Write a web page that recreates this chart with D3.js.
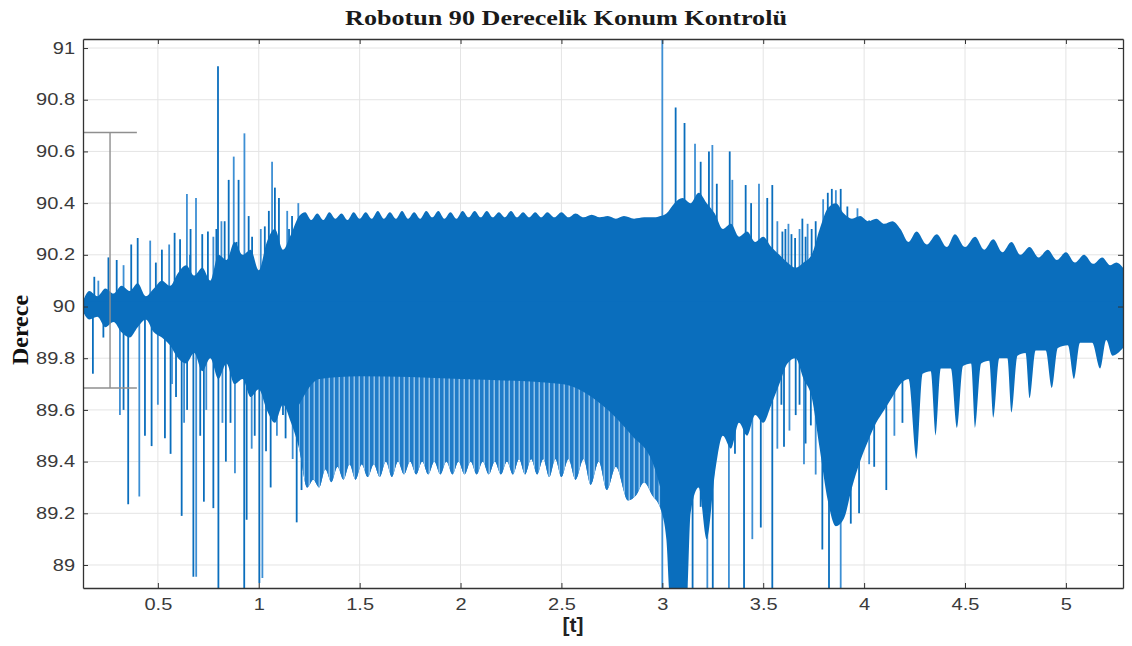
<!DOCTYPE html>
<html>
<head>
<meta charset="utf-8">
<script src="https://cdn.jsdelivr.net/npm/d3@7"></script>
<style>
  body { margin: 0; background: #fff; }
</style>
</head>
<body>
<div id="holder"></div>
<script>
const w = 1132;
const h = 646;

// AXES DATA
const xTicks = [0.5, 1, 1.5, 2, 2.5, 3, 3.5, 4, 4.5, 5];
const yTicks = [89, 89.2, 89.4, 89.6, 89.8, 90, 90.2, 90.4, 90.6, 90.8, 91];
const xDomain = [0.129, 5.283];
const yDomain = [88.911, 91.035];

// UPPER EDGE OF THE DENSE OSCILLATION
const hiT = [0.129, 0.16, 0.2, 0.24, 0.28, 0.32, 0.36, 0.40, 0.44, 0.48, 0.52, 0.56, 0.60, 0.64, 0.68, 0.72, 0.76, 0.80, 0.84, 0.88, 0.92, 0.96, 1.00, 1.04, 1.08, 1.12, 1.16, 1.20,
  1.23, 1.26, 1.29, 1.32, 1.35, 1.38, 1.41, 1.44, 1.47, 1.50, 1.53, 1.56, 1.59, 1.62, 1.65, 1.68, 1.71, 1.74, 1.77, 1.80, 1.83, 1.86, 1.89, 1.92, 1.95, 1.98,
  2.01, 2.04, 2.07, 2.10, 2.13, 2.16, 2.19, 2.22, 2.25, 2.28, 2.31, 2.34, 2.37, 2.40, 2.43, 2.465, 2.50, 2.535, 2.57, 2.61, 2.65, 2.69, 2.73, 2.77, 2.81, 2.86, 2.91, 2.96, 2.99,
  3.02, 3.06, 3.10, 3.14, 3.18, 3.22, 3.26, 3.30, 3.34, 3.38, 3.42, 3.46, 3.50, 3.54, 3.58, 3.62, 3.66, 3.70, 3.74, 3.78, 3.82, 3.86, 3.90, 3.94, 3.98, 4.02, 4.06, 4.10, 4.14,
  4.18, 4.22, 4.26, 4.31, 4.36, 4.41, 4.45, 4.50, 4.55, 4.595, 4.64, 4.685, 4.73, 4.775, 4.82, 4.865, 4.91, 4.955, 5.00, 5.045, 5.09, 5.135, 5.18, 5.22, 5.25, 5.283];
const hiV = [90.02, 90.06, 90.04, 90.07, 90.05, 90.08, 90.06, 90.09, 90.04, 90.07, 90.10, 90.08, 90.13, 90.16, 90.12, 90.15, 90.10, 90.20, 90.18, 90.25, 90.20, 90.22, 90.14, 90.25, 90.30, 90.22, 90.28, 90.35,
  90.365, 90.335, 90.36, 90.335, 90.365, 90.34, 90.36, 90.335, 90.365, 90.34, 90.365, 90.34, 90.37, 90.34, 90.365, 90.34, 90.37, 90.34, 90.365, 90.34, 90.37, 90.345, 90.37, 90.34, 90.365, 90.34,
  90.37, 90.345, 90.37, 90.345, 90.37, 90.345, 90.365, 90.345, 90.37, 90.345, 90.365, 90.345, 90.365, 90.345, 90.365, 90.345, 90.365, 90.345, 90.36, 90.345, 90.355, 90.345, 90.35, 90.34, 90.35, 90.34, 90.345, 90.345, 90.35,
  90.36, 90.40, 90.42, 90.40, 90.44, 90.40, 90.36, 90.30, 90.32, 90.27, 90.29, 90.25, 90.27, 90.23, 90.20, 90.17, 90.15, 90.17, 90.20, 90.30, 90.38, 90.40, 90.36, 90.34, 90.35, 90.33, 90.34, 90.32, 90.33,
  90.30, 90.25, 90.29, 90.24, 90.28, 90.23, 90.28, 90.23, 90.27, 90.22, 90.26, 90.21, 90.25, 90.20, 90.23, 90.19, 90.22, 90.18, 90.21, 90.17, 90.20, 90.165, 90.19, 90.16, 90.17, 90.15];

// LOWER EDGE OF THE DENSE OSCILLATION
const loT = [0.129, 0.16, 0.2, 0.24, 0.28, 0.32, 0.36, 0.40, 0.44, 0.48, 0.52, 0.56, 0.60, 0.64, 0.68, 0.72, 0.76, 0.80, 0.84, 0.88, 0.92, 0.96, 1.00, 1.04, 1.08, 1.12, 1.16, 1.20,
  1.24, 1.27, 1.30, 1.33, 1.36, 1.39, 1.42, 1.45, 1.48, 1.51, 1.54, 1.57, 1.60, 1.63, 1.66, 1.69, 1.72, 1.75, 1.78, 1.81, 1.84, 1.87, 1.90, 1.93, 1.96, 1.99,
  2.02, 2.05, 2.08, 2.11, 2.14, 2.17, 2.20, 2.23, 2.26, 2.29, 2.32, 2.35, 2.38, 2.41, 2.44, 2.47, 2.50, 2.535, 2.57, 2.61, 2.645, 2.685, 2.725, 2.77, 2.83, 2.87, 2.91, 2.95, 2.99,
  3.02, 3.04, 3.12, 3.14, 3.18, 3.22, 3.26, 3.30, 3.34, 3.38, 3.42, 3.46, 3.50, 3.54, 3.58, 3.62, 3.66, 3.70, 3.74, 3.78, 3.82, 3.86, 3.90, 3.94, 3.98, 4.02, 4.06, 4.10, 4.14, 4.18,
  4.22, 4.26, 4.29, 4.33, 4.355, 4.38, 4.43, 4.46, 4.49, 4.53, 4.55, 4.58, 4.62, 4.64, 4.67, 4.71, 4.73, 4.76, 4.80, 4.82, 4.85, 4.90, 4.93, 4.96, 5.01, 5.04, 5.07, 5.13, 5.17, 5.20, 5.23, 5.283];
const loV = [89.98, 89.95, 89.96, 89.92, 89.94, 89.90, 89.88, 89.92, 89.95, 89.90, 89.88, 89.85, 89.80, 89.78, 89.82, 89.75, 89.80, 89.72, 89.78, 89.70, 89.72, 89.65, 89.68, 89.60, 89.55, 89.62, 89.55, 89.45,
  89.30, 89.33, 89.30, 89.37, 89.32, 89.38, 89.33, 89.39, 89.33, 89.39, 89.34, 89.39, 89.34, 89.40, 89.34, 89.40, 89.35, 89.40, 89.35, 89.40, 89.35, 89.40, 89.35, 89.40, 89.35, 89.40,
  89.35, 89.40, 89.35, 89.40, 89.35, 89.40, 89.35, 89.40, 89.35, 89.41, 89.35, 89.41, 89.35, 89.41, 89.34, 89.41, 89.34, 89.41, 89.33, 89.41, 89.31, 89.40, 89.29, 89.38, 89.25, 89.27, 89.32, 89.27, 89.22,
  89.10, 88.85, 88.85, 89.20, 89.30, 89.10, 89.35, 89.50, 89.45, 89.55, 89.50, 89.58, 89.55, 89.62, 89.70, 89.78, 89.80, 89.72, 89.65, 89.45, 89.25, 89.15, 89.18, 89.30, 89.40, 89.48, 89.55, 89.60, 89.65, 89.70,
  89.72, 89.41, 89.74, 89.75, 89.50, 89.76, 89.76, 89.53, 89.77, 89.78, 89.53, 89.78, 89.79, 89.57, 89.80, 89.80, 89.59, 89.81, 89.82, 89.645, 89.83, 89.83, 89.685, 89.84, 89.85, 89.72, 89.86, 89.86, 89.76, 89.87, 89.81, 89.84];

// LIGHTER (STRIPED) LOWER ZONE, TOP EDGE
const paleT = [1.20, 1.30, 1.50, 2.00, 2.50, 2.70, 2.85, 2.95, 2.99];
const paleV = [89.62, 89.72, 89.73, 89.72, 89.70, 89.62, 89.50, 89.40, 89.30];

// INDIVIDUAL SPIKES (peak values)
const spikeT = [0.185, 0.205, 0.255, 0.296, 0.33, 0.368, 0.40, 0.462, 0.49, 0.52, 0.556, 0.583, 0.61, 0.644, 0.662, 0.66, 0.689, 0.72, 0.748, 0.775, 0.79, 0.798, 0.815, 0.831, 0.851, 0.876, 0.89, 0.90, 0.929, 0.95, 0.967, 1.01, 1.03, 1.05, 1.066, 1.08, 1.10, 1.141, 1.15, 1.165, 1.196,
  0.178, 0.23, 0.312, 0.33, 0.353, 0.408, 0.436, 0.469, 0.50, 0.535, 0.563, 0.57, 0.59, 0.618, 0.63, 0.645, 0.676, 0.69, 0.71, 0.728, 0.74, 0.775, 0.80, 0.82, 0.837, 0.86, 0.882, 0.928, 0.94, 0.965, 0.98, 1.003, 1.018, 1.036, 1.059, 1.09, 1.12, 1.133, 1.168, 1.188, 1.212,
  3.0, 3.066, 3.11, 3.162, 3.19, 3.231, 3.248, 3.27, 3.334, 3.347, 3.413, 3.44, 3.479, 3.52, 3.545, 3.57, 3.595, 3.61, 3.625, 3.64, 3.658, 3.68, 3.694, 3.71, 3.72, 3.74, 3.76, 3.797, 3.82, 3.84, 3.86, 3.884, 3.917, 3.967, 4.025, 4.06,
  3.0, 3.15, 3.19, 3.223, 3.25, 3.3, 3.33, 3.36, 3.405, 3.446, 3.488, 3.545, 3.57, 3.59, 3.603, 3.63, 3.661, 3.68, 3.702, 3.71, 3.736, 3.76, 3.793, 3.826, 3.884, 3.934, 3.975, 4.025, 4.05, 4.11, 4.15, 4.19];
const spikeV = [90.115, 90.10, 90.19, 90.18, 90.16, 90.24, 90.265, 90.255, 90.17, 90.22, 90.24, 90.285, 90.26, 90.435, 90.30, 90.20, 90.42, 90.28, 90.29, 90.27, 90.30, 90.93, 90.33, 90.33, 90.49, 90.58, 90.25, 90.49, 90.67, 90.35, 90.27, 90.30, 90.31, 90.37, 90.56, 90.46, 90.42, 90.37, 90.30, 90.35, 90.40,
  89.74, 89.88, 89.58, 89.60, 89.235, 89.265, 89.50, 89.46, 89.62, 89.49, 89.43, 89.70, 89.65, 89.19, 89.55, 89.60, 88.955, 88.955, 89.50, 89.245, 89.60, 89.22, 88.80, 89.55, 89.40, 89.55, 89.355, 88.80, 89.175, 89.45, 89.50, 88.93, 88.95, 89.44, 89.30, 89.50, 89.58, 89.49, 89.41, 89.165, 89.29,
  91.2, 90.77, 90.71, 90.63, 90.56, 90.60, 90.625, 90.475, 90.60, 90.49, 90.47, 90.40, 90.475, 90.42, 90.47, 90.33, 90.29, 90.30, 90.32, 90.28, 90.265, 90.30, 90.34, 90.27, 90.32, 90.30, 90.33, 90.415, 90.44, 90.455, 90.45, 90.455, 90.387, 90.38, 90.333, 90.326,
  88.70, 88.70, 89.225, 88.70, 88.70, 89.54, 88.80, 89.43, 88.80, 89.10, 89.145, 88.80, 89.45, 89.62, 89.457, 89.52, 89.58, 89.62, 89.39, 89.47, 89.54, 89.35, 89.06, 88.80, 88.80, 89.16, 89.20, 89.39, 89.38, 89.29, 89.50, 89.55];

// GRAY BRACKET ANNOTATION
const bracketT = [0.129, 0.263, 0.396];
const bracketV = [90.673, 89.685];

const hiData = hiT.map((t, i) => ({ t: t, v: hiV[i] }));
const loData = loT.map((t, i) => ({ t: t, v: loV[i] }));
const paleData = paleT.map((t, i) => ({ t: t, v: paleV[i] }));
const spikes = spikeT.map((t, i) => ({ t: t, v: spikeV[i] }));

// CREATE SVG
const svg = d3.select("#holder")
    .append("svg")
    .attr("width", w)
    .attr("height", h)
    .style("font-family", "'Liberation Sans', Arial, sans-serif");

const xScale = d3.scaleLinear().domain(xDomain).range([83, 1123]);
const yScale = d3.scaleLinear().domain(yDomain).range([588, 39]);

const defs = svg.append("defs");
defs.append("clipPath").attr("id", "plotClip")
    .append("rect")
    .attr("x", 83).attr("y", 39).attr("width", 1040).attr("height", 549);

// stripes for the lighter lower zone
const pat = defs.append("pattern")
    .attr("id", "stripes")
    .attr("patternUnits", "userSpaceOnUse")
    .attr("width", 5).attr("height", 10);
pat.append("rect").attr("width", 5).attr("height", 10).attr("fill", "#1f7bc8");
pat.append("rect").attr("x", 3.5).attr("width", 1.5).attr("height", 10).attr("fill", "#8ec1ea");

// GRID
const grid = svg.append("g").attr("stroke", "#e4e4e4").attr("stroke-width", 1);
grid.selectAll(".gx").data(xTicks).enter().append("line")
    .attr("x1", d => xScale(d)).attr("x2", d => xScale(d))
    .attr("y1", 39).attr("y2", 588);
grid.selectAll(".gy").data(yTicks).enter().append("line")
    .attr("x1", 83).attr("x2", 1123)
    .attr("y1", d => yScale(d)).attr("y2", d => yScale(d));

// SIGNAL
const plot = svg.append("g").attr("clip-path", "url(#plotClip)");

// spikes go under the dense band so only their tips show
plot.selectAll(".spike")
    .data(spikes)
    .enter()
    .append("line")
    .attr("class", "spike")
    .attr("x1", d => xScale(d.t)).attr("x2", d => xScale(d.t))
    .attr("y1", yScale(90)).attr("y2", d => yScale(d.v))
    .attr("stroke", (d, i) => i % 3 === 1 ? "#3d8fd4" : "#0a6ebd")
    .attr("stroke-width", 1.8);

// the two halves overlap a little around 90 so no seam shows
const areaHi = d3.area()
    .x(d => xScale(d.t))
    .y0(yScale(89.98))
    .y1(d => yScale(d.v))
    .curve(d3.curveMonotoneX);
const areaLo = d3.area()
    .x(d => xScale(d.t))
    .y0(yScale(90.02))
    .y1(d => yScale(d.v))
    .curve(d3.curveMonotoneX);

defs.append("clipPath").attr("id", "loClip")
    .append("path").attr("d", areaLo(loData));

plot.append("path").attr("d", areaHi(hiData)).attr("fill", "#0a6ebd");
plot.append("path").attr("d", areaLo(loData)).attr("fill", "#0a6ebd");

const paleArea = d3.area()
    .x(d => xScale(d.t))
    .y0(yScale(88.9))
    .y1(d => yScale(d.v))
    .curve(d3.curveMonotoneX);
plot.append("g").attr("clip-path", "url(#loClip)")
    .append("path").attr("d", paleArea(paleData)).attr("fill", "url(#stripes)");

// BRACKET
const br = svg.append("g").attr("stroke", "#8f8f8f").attr("stroke-width", 1.4).attr("fill", "none");
br.append("line").attr("x1", xScale(bracketT[0])).attr("x2", xScale(bracketT[2]))
    .attr("y1", yScale(bracketV[0])).attr("y2", yScale(bracketV[0]));
br.append("line").attr("x1", xScale(bracketT[0])).attr("x2", xScale(bracketT[2]))
    .attr("y1", yScale(bracketV[1])).attr("y2", yScale(bracketV[1]));
br.append("line").attr("x1", xScale(bracketT[1])).attr("x2", xScale(bracketT[1]))
    .attr("y1", yScale(bracketV[0])).attr("y2", yScale(bracketV[1]));

// AXES
function widen(sel, k) {
    sel.each(function () {
        const l = this.getComputedTextLength();
        this.setAttribute("textLength", l * k);
        this.setAttribute("lengthAdjust", "spacingAndGlyphs");
    });
}

const xAxis = d3.axisBottom(xScale).tickValues(xTicks).tickFormat(d3.format("")).tickSizeInner(-5).tickSizeOuter(0).tickPadding(11);
const gx = svg.append("g").attr("transform", "translate(0,588)").call(xAxis);
const xAxisTop = d3.axisTop(xScale).tickValues(xTicks).tickFormat("").tickSizeInner(-5).tickSizeOuter(0);
const gxt = svg.append("g").attr("transform", "translate(0,39)").call(xAxisTop);

const yAxis = d3.axisLeft(yScale).tickValues(yTicks).tickFormat(d3.format("")).tickSizeInner(-5).tickSizeOuter(0).tickPadding(8);
const gy = svg.append("g").attr("transform", "translate(83,0)").call(yAxis);
const yAxisRight = d3.axisRight(yScale).tickValues(yTicks).tickFormat("").tickSizeInner(-5).tickSizeOuter(0);
const gyr = svg.append("g").attr("transform", "translate(1123,0)").call(yAxisRight);

[gx, gxt, gy, gyr].forEach(g => {
    g.select(".domain").attr("stroke", "#333").attr("stroke-width", 1.3);
    g.selectAll(".tick line").attr("stroke", "#333");
    g.selectAll("text").attr("fill", "#3a3a3a").style("font-size", "16px")
        .style("font-family", "'Liberation Sans', Arial, sans-serif");
});
widen(gx.selectAll("text"), 1.25);
widen(gy.selectAll("text"), 1.25);

// TITLE AND LABELS
svg.append("text")
    .attr("x", 566).attr("y", 25)
    .attr("text-anchor", "middle")
    .style("font-family", "'Liberation Serif', 'Times New Roman', serif")
    .style("font-weight", "bold")
    .style("font-size", "20px")
    .attr("fill", "#1a1a1a")
    .attr("textLength", 442)
    .attr("lengthAdjust", "spacingAndGlyphs")
    .text("Robotun 90 Derecelik Konum Kontrolü");

svg.append("text")
    .attr("transform", "translate(28,330) rotate(-90)")
    .attr("text-anchor", "middle")
    .style("font-family", "'Liberation Serif', 'Times New Roman', serif")
    .style("font-weight", "bold")
    .style("font-size", "24px")
    .attr("fill", "#111")
    .text("Derece");

svg.append("text")
    .attr("x", 573).attr("y", 632)
    .attr("text-anchor", "middle")
    .style("font-weight", "bold")
    .style("font-size", "21px")
    .attr("fill", "#222")
    .text("[t]");
</script>
</body>
</html>
